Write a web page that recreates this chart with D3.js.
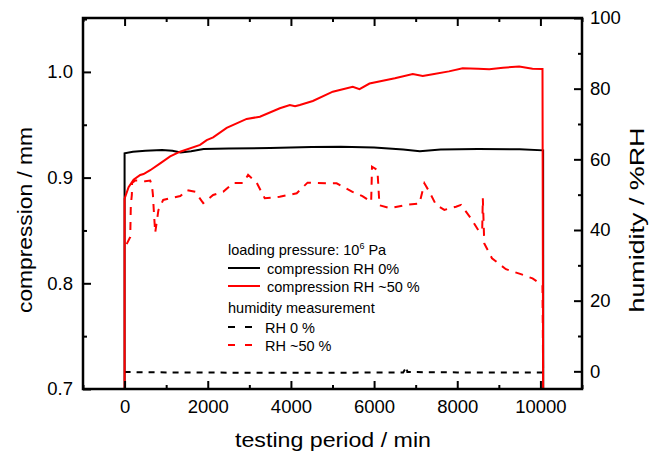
<!DOCTYPE html>
<html>
<head>
<meta charset="utf-8">
<script src="https://cdn.jsdelivr.net/npm/d3@7"></script>
<style>
  body { margin: 0; background: #fff; }
  svg { display: block; font-family: "Liberation Sans", Arial, sans-serif; }
</style>
</head>
<body>
<div id="chart"></div>
<script>
// compression RH 0% : [minutes, mm]
const compDry = [
  [0, 0.70], [0, 0.923], [200, 0.9245], [500, 0.9255], [900, 0.926], [1150, 0.9255],
  [1350, 0.9237], [1600, 0.925], [1900, 0.927], [2500, 0.9275], [3500, 0.928],
  [4500, 0.929], [5200, 0.9292], [6000, 0.9285], [6700, 0.9265], [7100, 0.925],
  [7600, 0.9265], [8500, 0.927], [9500, 0.9268], [10065, 0.9258], [10068, 0.70]
];
// compression RH ~50 %
const compWet = [
  [0, 0.70], [0, 0.88], [96, 0.891], [216, 0.898], [376, 0.9025], [456, 0.9034],
  [616, 0.907], [856, 0.9135], [1096, 0.92], [1336, 0.9245], [1816, 0.931],
  [1975, 0.9355], [2130, 0.938], [2455, 0.947], [2935, 0.9555], [3254, 0.9576],
  [3734, 0.9656], [3974, 0.9687], [4100, 0.9675], [4213, 0.9687], [4527, 0.9725],
  [5007, 0.9813], [5487, 0.986], [5650, 0.9837], [5890, 0.989], [6500, 0.994],
  [6930, 0.998], [7170, 0.9961], [7410, 0.9977], [7800, 1.0005], [8130, 1.0034],
  [8500, 1.003], [8770, 1.0025], [9100, 1.004], [9490, 1.005], [9810, 1.003],
  [10050, 1.0027], [10065, 0.70]
];
// humidity RH 0 % : [minutes, %RH]
const humDry = [
  [0, -0.2], [1000, -0.3], [3000, -0.4], [5000, -0.4], [6700, -0.3], [6780, 1.3],
  [6800, -0.2], [8000, -0.3], [10065, -0.3]
];
// humidity RH ~50 %
const humWet = [
  [50, 36], [136, 38], [150, 47], [175, 50], [180, 53.3], [257, 54], [330, 54],
  [496, 53.8], [616, 54], [657, 52.7], [681, 50], [700, 46], [736, 39.2], [813, 45.6],
  [928, 48.5], [1096, 49], [1340, 49.6], [1500, 51.3], [1700, 50.8], [1890, 47.6],
  [2130, 49.9], [2370, 50.8], [2610, 53.3], [2850, 53.3], [2970, 55.6], [3180, 53.3],
  [3370, 49], [3730, 49.4], [4140, 50.4], [4400, 53.4], [4860, 53.2], [5100, 53.2],
  [5480, 50.8], [5720, 49.6], [5930, 48], [5950, 57.9], [6080, 57], [6130, 47],
  [6370, 46.2], [6770, 47.1], [7090, 47.5], [7210, 53.2], [7330, 50.8], [7490, 47.1],
  [7690, 45.7], [7970, 46.6], [8090, 47.1], [8330, 43.3], [8530, 39.5], [8600, 40],
  [8615, 49], [8650, 36.2], [8835, 32], [9170, 28.9], [9530, 27.5], [9810, 26.3],
  [10050, 24.4], [10065, 0]
];

const xTicks = [0, 2000, 4000, 6000, 8000, 10000];
const xMinor = [-1000, 1000, 3000, 5000, 7000, 9000, 11000];
const yTicks = [0.7, 0.8, 0.9, 1.0];
const yMinor = [0.75, 0.85, 0.95, 1.05];
const hTicks = [0, 20, 40, 60, 80, 100];
const hMinor = [10, 30, 50, 70, 90];

const width = 653;
const height = 455;
const margin = {left: 83, right: 71, top: 18, bottom: 66};
const innerW = width - margin.left - margin.right;
const innerH = height - margin.top - margin.bottom;

const svg = d3.select('#chart')
    .append('svg')
    .attr('width', width)
    .attr('height', height);

const g = svg.append('g')
    .attr('transform', `translate(${margin.left},${margin.top})`);

const xScale = d3.scaleLinear().domain([-1000, 11000]).range([0, innerW]);
const yScale = d3.scaleLinear().domain([0.7, 1.051]).range([innerH, 0]);
const hScale = d3.scaleLinear().domain([-5, 100]).range([innerH, 0]);

g.append('clipPath').attr('id', 'clip')
  .append('rect').attr('width', innerW).attr('height', innerH);

const plot = g.append('g').attr('clip-path', 'url(#clip)');

const compLine = d3.line().x(d => xScale(d[0])).y(d => yScale(d[1]));
const humLine = d3.line().x(d => xScale(d[0])).y(d => hScale(d[1]));

plot.append('path').datum(humDry)
    .attr('d', humLine).attr('fill', 'none')
    .attr('stroke', '#000').attr('stroke-width', 2).attr('stroke-dasharray', '6,6');
plot.append('path').datum(humWet)
    .attr('d', humLine).attr('fill', 'none')
    .attr('stroke', '#ff0000').attr('stroke-width', 2).attr('stroke-dasharray', '8,7');
plot.append('path').datum(compDry)
    .attr('d', compLine).attr('fill', 'none')
    .attr('stroke', '#000').attr('stroke-width', 2);
plot.append('path').datum(compWet)
    .attr('d', compLine).attr('fill', 'none')
    .attr('stroke', '#ff0000').attr('stroke-width', 2);

// axes, ticks pointing inward
function styleAxis(sel) {
    sel.select('.domain').remove();
    sel.selectAll('line').attr('stroke', '#000').attr('stroke-width', 2);
    sel.selectAll('text').attr('font-size', '18.5px').attr('fill', '#000');
}

g.append('g').attr('transform', `translate(0,${innerH})`)
    .call(d3.axisBottom(xScale).tickValues(xTicks).tickSize(-8).tickPadding(11).tickFormat(d3.format('d')))
    .call(styleAxis);
g.append('g').attr('transform', `translate(0,${innerH})`)
    .call(d3.axisBottom(xScale).tickValues(xMinor).tickSize(-4).tickFormat(''))
    .call(styleAxis);
g.append('g')
    .call(d3.axisTop(xScale).tickValues(xTicks).tickSize(-8).tickFormat(''))
    .call(styleAxis);
g.append('g')
    .call(d3.axisTop(xScale).tickValues(xMinor).tickSize(-4).tickFormat(''))
    .call(styleAxis);

g.append('g')
    .call(d3.axisLeft(yScale).tickValues(yTicks).tickSize(-8).tickPadding(10).tickFormat(d3.format('.1f')))
    .call(styleAxis);
g.append('g')
    .call(d3.axisLeft(yScale).tickValues(yMinor).tickSize(-4).tickFormat(''))
    .call(styleAxis);

g.append('g').attr('transform', `translate(${innerW},0)`)
    .call(d3.axisRight(hScale).tickValues(hTicks).tickSize(-8).tickPadding(8))
    .call(styleAxis);
g.append('g').attr('transform', `translate(${innerW},0)`)
    .call(d3.axisRight(hScale).tickValues(hMinor).tickSize(-4).tickFormat(''))
    .call(styleAxis);

g.append('rect')
    .attr('width', innerW).attr('height', innerH)
    .attr('fill', 'none').attr('stroke', '#000').attr('stroke-width', 2.5);

// axis titles
svg.append('text')
    .attr('x', 333).attr('y', 447)
    .attr('text-anchor', 'middle')
    .attr('font-size', '21px')
    .attr('textLength', 196).attr('lengthAdjust', 'spacingAndGlyphs')
    .text('testing period / min');

svg.append('text')
    .attr('transform', 'translate(32,220) rotate(-90)')
    .attr('text-anchor', 'middle')
    .attr('font-size', '21px')
    .attr('textLength', 186).attr('lengthAdjust', 'spacingAndGlyphs')
    .text('compression / mm');

svg.append('text')
    .attr('transform', 'translate(644,220) rotate(-90)')
    .attr('text-anchor', 'middle')
    .attr('font-size', '21px')
    .attr('textLength', 185).attr('lengthAdjust', 'spacingAndGlyphs')
    .text('humidity / %RH');

// legend
const legend = svg.append('g').attr('font-size', '14.5px');
const lx = 228;

const head = legend.append('text').attr('x', lx).attr('y', 255);
head.append('tspan').text('loading pressure: 10');
head.append('tspan').attr('font-size', '9px').attr('dy', -6).text('6');
head.append('tspan').attr('dy', 6).text(' Pa');

const legendItems = [
  {label: 'compression RH 0%', color: '#000', dash: null, y: 268, tx: 267},
  {label: 'compression RH ~50 %', color: '#ff0000', dash: null, y: 286, tx: 267},
  {label: 'RH 0 %', color: '#000', dash: '7,10', y: 327, tx: 265},
  {label: 'RH ~50 %', color: '#ff0000', dash: '7,10', y: 345, tx: 265}
];

legend.append('text').attr('x', lx).attr('y', 313).text('humidity measurement');

legendItems.forEach(d => {
    legend.append('line')
        .attr('x1', lx).attr('x2', d.dash ? lx + 25 : lx + 32)
        .attr('y1', d.y).attr('y2', d.y)
        .attr('stroke', d.color).attr('stroke-width', 2)
        .attr('stroke-dasharray', d.dash);
    legend.append('text')
        .attr('x', d.tx).attr('y', d.y + 5.5)
        .text(d.label);
});
</script>
</body>
</html>
